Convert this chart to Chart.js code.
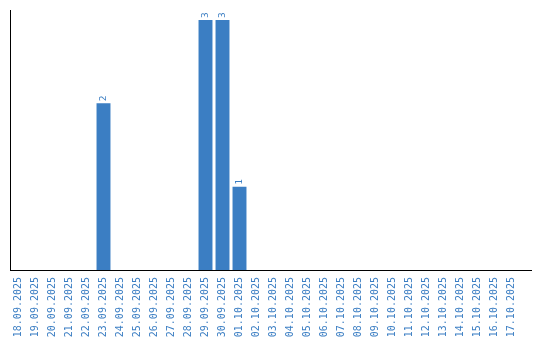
<!DOCTYPE html>
<html>
<head>
<meta charset="utf-8">
<script src="https://cdn.jsdelivr.net/npm/chart.js@4"></script>
<style>
  html, body { margin: 0; padding: 0; background: #fff; }
  #wrap { width: 540px; height: 340px; }
</style>
</head>
<body>
<div id="wrap"><canvas id="countChart" width="540" height="340"></canvas></div>
<script>
const days = [
    '18.09.2025', '19.09.2025', '20.09.2025', '21.09.2025', '22.09.2025',
    '23.09.2025', '24.09.2025', '25.09.2025', '26.09.2025', '27.09.2025',
    '28.09.2025', '29.09.2025', '30.09.2025', '01.10.2025', '02.10.2025',
    '03.10.2025', '04.10.2025', '05.10.2025', '06.10.2025', '07.10.2025',
    '08.10.2025', '09.10.2025', '10.10.2025', '11.10.2025', '12.10.2025',
    '13.10.2025', '14.10.2025', '15.10.2025', '16.10.2025', '17.10.2025'
];
const counts = [
    0, 0, 0, 0, 0,
    2, 0, 0, 0, 0,
    0, 3, 3, 1, 0,
    0, 0, 0, 0, 0,
    0, 0, 0, 0, 0,
    0, 0, 0, 0, 0
];

const blue = '#3b7ec3';
const monoFont = 'DejaVu Sans Mono';

// подписи значений над столбиками (повернуты)
const valueLabels = {
    id: 'valueLabels',
    afterDatasetsDraw(chart) {
        const ctx = chart.ctx;
        const meta = chart.getDatasetMeta(0);
        ctx.save();
        ctx.fillStyle = blue;
        ctx.font = '9.5px ' + monoFont;
        ctx.textAlign = 'left';
        ctx.textBaseline = 'middle';
        meta.data.forEach((bar, i) => {
            const v = counts[i];
            if (!v) return;
            ctx.save();
            ctx.translate(bar.x, bar.y - 2);
            ctx.rotate(-Math.PI / 2);
            ctx.fillText(String(v), 0, 0);
            ctx.restore();
        });
        ctx.restore();
    }
};

// ось X рисуем сами, она чуть длиннее области графика
const axisLine = {
    id: 'axisLine',
    afterDraw(chart) {
        const { ctx, chartArea } = chart;
        ctx.save();
        ctx.strokeStyle = '#000';
        ctx.lineWidth = 1;
        ctx.beginPath();
        ctx.moveTo(chartArea.left, Math.round(chartArea.bottom) + 0.5);
        ctx.lineTo(532, Math.round(chartArea.bottom) + 0.5);
        ctx.stroke();
        ctx.restore();
    }
};

new Chart(document.getElementById('countChart').getContext('2d'), {
    type: 'bar',
    data: {
        labels: days,
        datasets: [{
            data: counts,
            backgroundColor: blue,
            borderWidth: 0,
            barPercentage: 0.82,
            categoryPercentage: 1.0
        }]
    },
    options: {
        responsive: false,
        animation: false,
        layout: { padding: { left: 10, right: 20, top: 10, bottom: 0 } },
        plugins: {
            legend: { display: false },
            tooltip: { enabled: false }
        },
        scales: {
            x: {
                grid: { display: false, drawTicks: false },
                border: { display: false },
                ticks: {
                    color: blue,
                    font: { family: monoFont, size: 10 },
                    maxRotation: 90,
                    minRotation: 90,
                    autoSkip: false,
                    padding: 7
                },
                afterFit(scale) { scale.height = 70; }
            },
            y: {
                min: 0,
                max: 3.12,
                grid: { display: false, drawTicks: false },
                border: { display: true, color: '#000', width: 1 },
                ticks: { display: false },
                afterFit(scale) { scale.width = 0; }
            }
        }
    },
    plugins: [valueLabels, axisLine]
});
</script>
</body>
</html>
